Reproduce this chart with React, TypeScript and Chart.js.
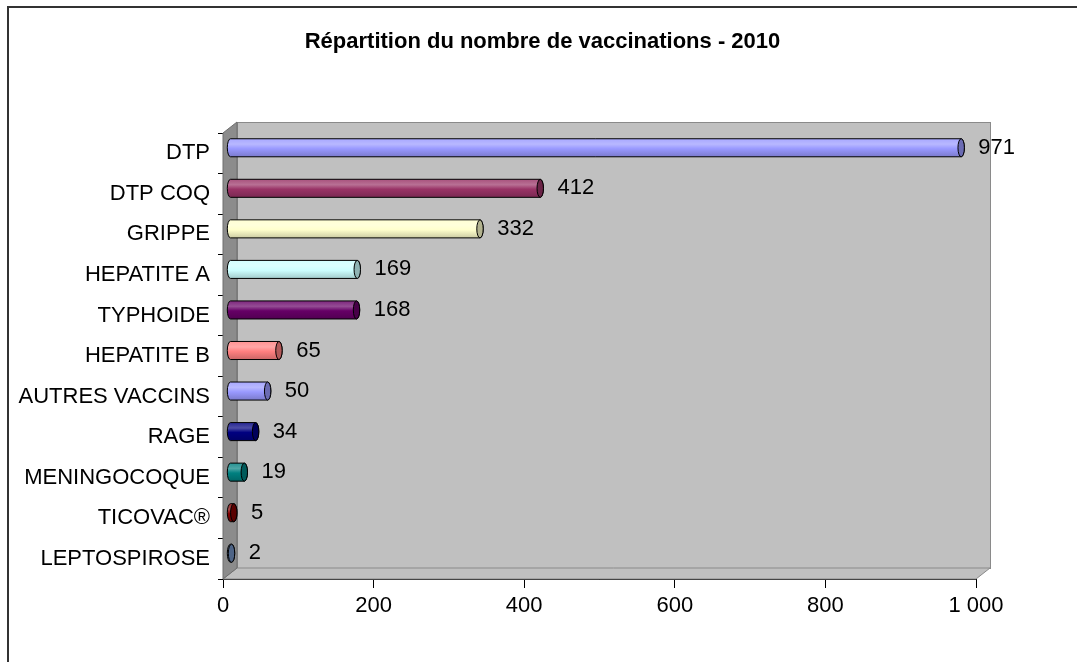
import React, { useEffect, useRef } from "react";
import { Chart, registerables } from "chart.js";

Chart.register(...registerables);

const categories = [
  "DTP",
  "DTP COQ",
  "GRIPPE",
  "HEPATITE A",
  "TYPHOIDE",
  "HEPATITE B",
  "AUTRES VACCINS",
  "RAGE",
  "MENINGOCOQUE",
  "TICOVAC®",
  "LEPTOSPIROSE",
];
const values = [971, 412, 332, 169, 168, 65, 50, 34, 19, 5, 2];
const barColors = [
  "#9999FF",
  "#993366",
  "#FFFFCC",
  "#CCFFFF",
  "#660066",
  "#FF8080",
  "#9999FF",
  "#000080",
  "#008080",
  "#800000",
  "#6F8FBF",
];
const xTickValues = [0, 200, 400, 600, 800, 1000];
const titleText = "Répartition du nombre de vaccinations - 2010";

const FONT = "'Liberation Sans', Arial, sans-serif";
const DX = 14;
const DY = 11;

function hexToRgb(h: string) {
  const n = parseInt(h.slice(1), 16);
  return [(n >> 16) & 255, (n >> 8) & 255, n & 255];
}
function mix(h: string, t: number) {
  const [r, g, b] = hexToRgb(h);
  const f = (c: number) =>
    Math.round(t >= 0 ? c + (255 - c) * t : c * (1 + t));
  return `rgb(${f(r)},${f(g)},${f(b)})`;
}
function fmt(v: number) {
  return String(v).replace(/\B(?=(\d{3})+(?!\d))/g, " ");
}

const framePlugin = {
  id: "frame3d",
  beforeDraw(chart: any) {
    const ctx = chart.ctx;
    ctx.save();
    ctx.fillStyle = "#ffffff";
    ctx.fillRect(0, 0, chart.width, chart.height);
    ctx.fillStyle = "#333333";
    ctx.fillRect(7, 6, 2, chart.height - 6);
    ctx.fillRect(7, 6, chart.width - 7, 2);
    ctx.restore();
  },
  beforeDatasetsDraw(chart: any) {
    const { ctx, chartArea } = chart;
    const { left: L, right: R, top: T, bottom: B } = chartArea;
    ctx.save();
    ctx.fillStyle = "#C0C0C0";
    ctx.fillRect(L + DX, T - DY, R - L, B - T);
    ctx.strokeStyle = "#8a8a8a";
    ctx.lineWidth = 1;
    ctx.strokeRect(L + DX + 0.5, T - DY + 0.5, R - L, B - T);
    ctx.beginPath();
    ctx.moveTo(L, B);
    ctx.lineTo(L + DX, B - DY);
    ctx.lineTo(R + DX, B - DY);
    ctx.lineTo(R, B);
    ctx.closePath();
    ctx.fillStyle = "#C0C0C0";
    ctx.fill();
    ctx.strokeStyle = "#8a8a8a";
    ctx.stroke();
    ctx.beginPath();
    ctx.moveTo(L, T);
    ctx.lineTo(L + DX, T - DY);
    ctx.lineTo(L + DX, B - DY);
    ctx.lineTo(L, B);
    ctx.closePath();
    ctx.fillStyle = "#8c8c8c";
    ctx.fill();
    ctx.strokeStyle = "#6e6e6e";
    ctx.stroke();
    ctx.restore();
  },
  afterDatasetsDraw(chart: any) {
    const ctx = chart.ctx;
    const meta = chart.getDatasetMeta(0);
    const ds = chart.data.datasets[0];
    ctx.save();
    meta.data.forEach((el: any, i: number) => {
      const p = el.getProps(["x", "y", "base", "height"], true);
      const col = barColors[i % barColors.length];
      const x0 = p.base + DX / 2;
      const x1 = p.x + DX / 2;
      const yc = p.y - DY / 2;
      const h = p.height;
      const top = yc - h / 2;
      const bot = yc + h / 2;
      const rx = 3.2;
      const grad = ctx.createLinearGradient(0, top, 0, bot);
      grad.addColorStop(0, mix(col, 0.15));
      grad.addColorStop(0.3, mix(col, 0.3));
      grad.addColorStop(0.55, mix(col, 0));
      grad.addColorStop(1, mix(col, -0.2));
      ctx.beginPath();
      ctx.moveTo(x0, top);
      ctx.lineTo(x1, top);
      ctx.ellipse(x1, yc, rx, h / 2, 0, -Math.PI / 2, Math.PI / 2);
      ctx.lineTo(x0, bot);
      ctx.ellipse(x0, yc, rx, h / 2, 0, Math.PI / 2, (3 * Math.PI) / 2);
      ctx.closePath();
      ctx.fillStyle = grad;
      ctx.fill();
      ctx.strokeStyle = "#000000";
      ctx.lineWidth = 1;
      ctx.stroke();
      ctx.beginPath();
      ctx.ellipse(x1, yc, rx, h / 2, 0, 0, Math.PI * 2);
      ctx.fillStyle = mix(col, -0.3);
      ctx.fill();
      ctx.stroke();
      ctx.fillStyle = "#000000";
      ctx.font = `22px ${FONT}`;
      ctx.textAlign = "left";
      ctx.textBaseline = "middle";
      ctx.fillText(String(ds.data[i]), x1 + rx + 14, yc);
    });
    ctx.restore();
  },
};

export default function App() {
  const ref = useRef<HTMLCanvasElement | null>(null);
  useEffect(() => {
    if (!ref.current) return;
    const chart = new Chart(ref.current, {
      type: "bar",
      data: {
        labels: categories,
        datasets: [
          {
            data: values,
            backgroundColor: "rgba(0,0,0,0)",
            borderWidth: 0,
            categoryPercentage: 1,
            barPercentage: 0.445,
          },
        ],
      },
      options: {
        indexAxis: "y",
        responsive: false,
        animation: false,
        events: [],
        layout: { padding: { left: 8, right: 0, top: 0, bottom: 0 } },
        plugins: {
          legend: { display: false },
          tooltip: { enabled: false },
          title: {
            display: true,
            text: titleText,
            color: "#000000",
            font: { family: FONT, size: 22, weight: "bold", lineHeight: 1.2 },
            padding: { top: 29, bottom: 77.6 },
          },
        },
        scales: {
          x: {
            type: "linear",
            position: "bottom",
            min: 0,
            max: 1000,
            afterBuildTicks: (scale: any) => {
              scale.ticks = xTickValues.map((v) => ({ value: v }));
            },
            afterFit: (scale: any) => {
              scale.height = 83;
            },
            ticks: {
              color: "#000000",
              font: { family: FONT, size: 22 },
              padding: 5,
              maxRotation: 0,
              autoSkip: false,
              callback: (v: any) => fmt(Number(v)),
            },
            grid: {
              drawOnChartArea: false,
              drawTicks: true,
              tickLength: 9,
              color: "#000000",
            },
            border: { display: true, color: "#000000", width: 1 },
          },
          y: {
            type: "category",
            position: "left",
            afterFit: (scale: any) => {
              scale.width = 215;
            },
            ticks: {
              color: "#000000",
              font: { family: FONT, size: 22 },
              padding: 8,
              autoSkip: false,
            },
            grid: {
              drawOnChartArea: false,
              drawTicks: true,
              tickLength: 5,
              color: "#000000",
              offset: true,
            },
            border: { display: true, color: "#000000", width: 1 },
          },
          yRight: {
            type: "category",
            position: "right",
            labels: categories,
            afterFit: (scale: any) => {
              scale.width = 101;
            },
            ticks: { display: false },
            grid: { display: false },
            border: { display: false },
          },
        },
      },
      plugins: [framePlugin],
    });
    return () => chart.destroy();
  }, []);
  return (
    <div style={{ position: "fixed", left: 0, top: 0 }}>
      <canvas
        ref={ref}
        width={1077}
        height={662}
        style={{ display: "block", width: 1077, height: 662 }}
      />
    </div>
  );
}
